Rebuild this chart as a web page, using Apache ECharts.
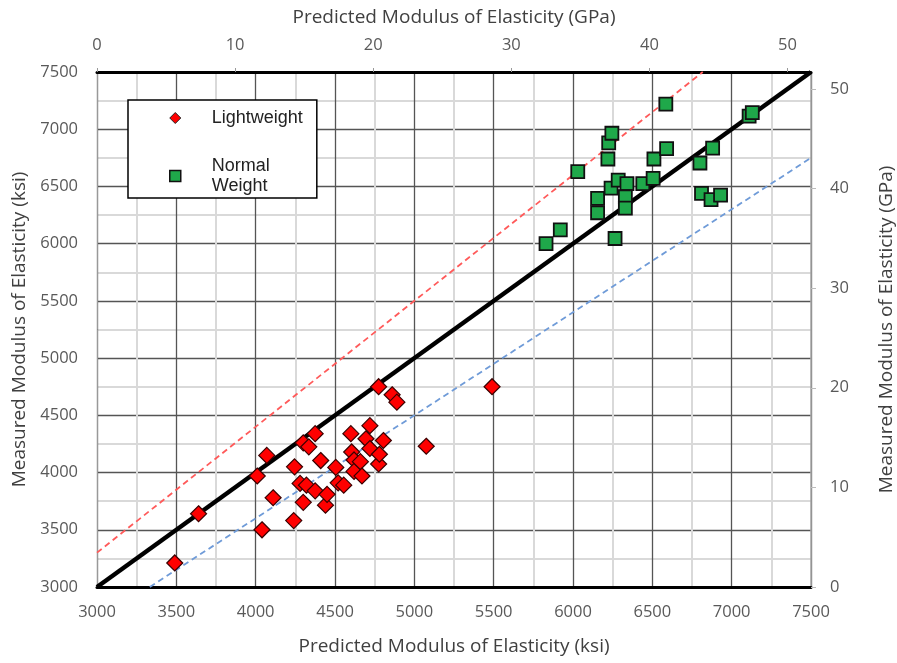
<!DOCTYPE html>
<html>
<head>
<meta charset="utf-8">
<script src="https://cdn.jsdelivr.net/npm/echarts@6/dist/echarts.min.js"></script>
<style>
  html, body { margin: 0; padding: 0; background: #fff; }
  #chart { width: 897px; height: 663px; }
</style>
</head>
<body>
<div id="chart"></div>
<script>
// measured vs predicted modulus, ksi
const lightweight = [
  [3490, 3210], [3640, 3640], [4040, 3500], [4010, 3970], [4070, 4150],
  [4110, 3780], [4240, 3580], [4245, 4050], [4280, 3905], [4300, 3740],
  [4300, 4260], [4320, 3890], [4335, 4225], [4375, 4340], [4375, 3840],
  [4410, 4105], [4440, 3715], [4450, 3810], [4505, 4045], [4520, 3910],
  [4555, 3890], [4600, 4340], [4605, 4180], [4620, 4110], [4620, 4010],
  [4660, 4095], [4670, 3970], [4695, 4295], [4720, 4410], [4720, 4210],
  [4775, 4750], [4775, 4075], [4780, 4160], [4805, 4280], [4860, 4680],
  [4890, 4615], [5075, 4230], [5490, 4750]
];
const normalWeight = [
  [5830, 6000], [5920, 6120], [6030, 6630], [6155, 6395], [6155, 6270],
  [6220, 6740], [6225, 6880], [6245, 6965], [6240, 6485], [6265, 6045],
  [6285, 6555], [6340, 6525], [6330, 6410], [6330, 6310], [6440, 6525],
  [6505, 6570], [6510, 6740], [6590, 6830], [6585, 7220], [6800, 6705],
  [6810, 6440], [6870, 6385], [6880, 6835], [6930, 6425], [7110, 7115],
  [7130, 7145]
];
// reference lines (end points)
const equalityLine = [[3000, 3000], [7500, 7500]];
const upperLine = [[3000, 3300], [6818, 7500]];
const lowerLine = [[3333, 3000], [7500, 6750]];

const ksiMin = 3000, ksiMax = 7500, ksiStep = 500;
const gpaMin = 0, gpaMax = 51.7, gpaStep = 10;

const labelFont = { color: '#595959', fontSize: 16.5, fontFamily: 'Open Sans', formatter: v => String(v) };
const nameFont = { color: '#404040', fontSize: 19, fontFamily: 'Open Sans' };

const chart = echarts.init(document.getElementById('chart'));
chart.setOption({
  animation: false,
  grid: { left: 97, right: 86, top: 72, bottom: 76, containLabel: false, outerBoundsMode: 'none' },
  legend: {
    orient: 'vertical',
    left: 128, top: 100,
    padding: [8, 14, 2, 41],
    itemGap: 28,
    itemWidth: 11, itemHeight: 11,
    backgroundColor: '#fff',
    borderColor: '#000', borderWidth: 1.5, borderRadius: 0,
    textStyle: { color: '#222', fontSize: 18, fontFamily: 'Liberation Sans', padding: [0, 0, 0, 26], lineHeight: 20 },
    formatter: n => n === 'Normal Weight' ? 'Normal\nWeight' : n,
    data: [
      { name: 'Lightweight', itemStyle: { color: '#ff0000', borderColor: '#222', borderWidth: 1 } },
      { name: 'Normal Weight', itemStyle: { color: '#1fa84a', borderColor: '#111', borderWidth: 1.5 } }
    ]
  },
  xAxis: [
    {
      type: 'value', position: 'bottom',
      min: ksiMin, max: ksiMax, interval: ksiStep,
      name: 'Predicted Modulus of Elasticity (ksi)', nameLocation: 'middle', nameGap: 50,
      nameTextStyle: nameFont,
      axisLine: { show: true, onZero: false, lineStyle: { color: '#000', width: 3 } },
      axisTick: { show: false },
      axisLabel: Object.assign({ margin: 17 }, labelFont),
      splitLine: { show: true, lineStyle: { color: '#555', width: 1.3 } },
      minorTick: { show: false, splitNumber: 2 },
      minorSplitLine: { show: true, lineStyle: { color: '#d9d9d9', width: 2 } }
    },
    {
      type: 'value', position: 'top',
      min: gpaMin, max: gpaMax, interval: gpaStep,
      name: 'Predicted Modulus of Elasticity (GPa)', nameLocation: 'middle', nameGap: 45,
      nameTextStyle: nameFont,
      axisLine: { show: true, onZero: false, lineStyle: { color: '#000', width: 3 } },
      axisTick: { show: true, length: 4, lineStyle: { color: '#999' } },
      axisLabel: Object.assign({ margin: 18, showMaxLabel: false }, labelFont),
      splitLine: { show: false }
    }
  ],
  yAxis: [
    {
      type: 'value', position: 'left',
      min: ksiMin, max: ksiMax, interval: ksiStep,
      name: 'Measured Modulus of Elasticity (ksi)', nameLocation: 'middle', nameGap: 68,
      nameTextStyle: nameFont,
      axisLine: { show: true, onZero: false, lineStyle: { color: '#999', width: 1 } },
      axisTick: { show: false },
      axisLabel: Object.assign({ margin: 19 }, labelFont),
      splitLine: { show: true, lineStyle: { color: '#555', width: 1.3 } },
      minorTick: { show: false, splitNumber: 2 },
      minorSplitLine: { show: true, lineStyle: { color: '#d9d9d9', width: 2 } }
    },
    {
      type: 'value', position: 'right',
      min: gpaMin, max: gpaMax, interval: gpaStep,
      name: 'Measured Modulus of Elasticity (GPa)', nameLocation: 'middle', nameGap: 66,
      nameTextStyle: nameFont,
      axisLine: { show: true, onZero: false, lineStyle: { color: '#aaa', width: 1.5 } },
      axisTick: { show: true, length: 5, lineStyle: { color: '#bbb' } },
      axisLabel: Object.assign({ margin: 19, showMaxLabel: false }, labelFont),
      splitLine: { show: false }
    }
  ],
  series: [
    {
      name: 'upper', type: 'line', data: upperLine, symbol: 'none', silent: true,
      lineStyle: { color: '#ff5a5a', width: 1.8, type: [6, 4] }, z: 2
    },
    {
      name: 'lower', type: 'line', data: lowerLine, symbol: 'none', silent: true,
      lineStyle: { color: '#6f9bd8', width: 1.8, type: [6, 4] }, z: 2
    },
    {
      name: 'equality', type: 'line', data: equalityLine, symbol: 'none', silent: true,
      lineStyle: { color: '#000', width: 4.5 }, z: 3
    },
    {
      name: 'Lightweight', type: 'scatter', data: lightweight,
      symbol: 'diamond', symbolSize: [16, 16],
      itemStyle: { color: '#ff0000', borderColor: '#3a0000', borderWidth: 1.2, opacity: 1 }, z: 4
    },
    {
      name: 'Normal Weight', type: 'scatter', data: normalWeight,
      symbol: 'rect', symbolSize: 13,
      itemStyle: { color: '#1fa84a', borderColor: '#111', borderWidth: 1.8, opacity: 1 }, z: 4
    }
  ]
});
</script>
</body>
</html>
